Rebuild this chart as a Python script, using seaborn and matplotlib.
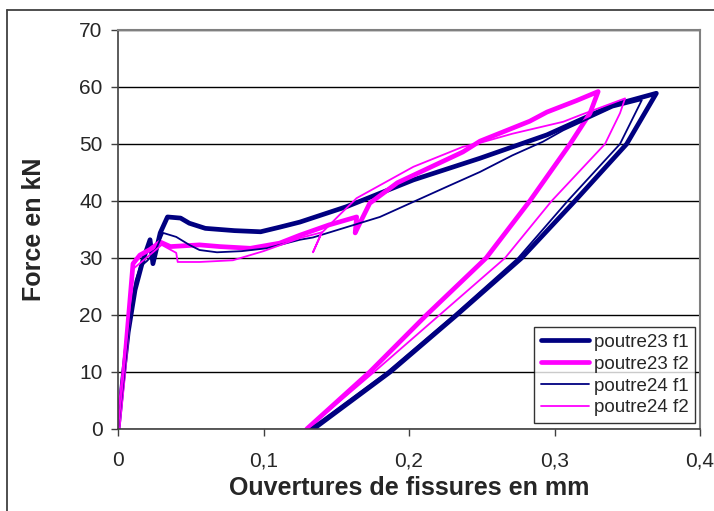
import numpy as np
import pandas as pd
import matplotlib
matplotlib.use("Agg")
import matplotlib.pyplot as plt
from matplotlib.lines import Line2D
import seaborn as sns

# poutre23 f1 (thick navy)
p23f1_x = [0, 0.003, 0.007, 0.0117, 0.017, 0.022, 0.024, 0.029, 0.034, 0.043, 0.049, 0.06, 0.08,
           0.098, 0.111, 0.125, 0.157, 0.203, 0.2488, 0.2948, 0.340, 0.370,
           0.3496, 0.314, 0.2774, 0.2328, 0.187, 0.1343]
p23f1_y = [0, 8, 17, 24.4, 29.5, 33.2, 29, 34.4, 37.2, 37, 36.1, 35.2, 34.8,
           34.6, 35.4, 36.3, 39, 43.7, 47.5, 51.6, 56.8, 58.9,
           50, 40, 30, 20, 10, 0]

# poutre23 f2 (thick magenta)
p23f2_x = [0, 0.004, 0.008, 0.0103, 0.015, 0.022, 0.029, 0.036, 0.056, 0.07, 0.091, 0.111, 0.125,
           0.145, 0.164, 0.163, 0.166, 0.173, 0.192, 0.237, 0.2488, 0.283, 0.2948, 0.315, 0.330,
           0.3244, 0.3107, 0.283, 0.253, 0.212, 0.173, 0.1297]
p23f2_y = [0, 10, 22, 29, 30.5, 31.5, 32.8, 32, 32.3, 32, 31.7, 32.6, 34,
           35.8, 37.2, 34.4, 36, 39.6, 43.2, 48.6, 50.5, 54, 55.6, 57.6, 59.2,
           55.4, 50, 40, 30, 20, 10, 0]

# poutre24 f1 (thin navy)
p24f1_x = [0, 0.004, 0.008, 0.012, 0.015, 0.020, 0.025, 0.031, 0.040, 0.049, 0.056, 0.068, 0.085,
           0.102, 0.125, 0.134, 0.180, 0.226, 0.2488, 0.271, 0.292, 0.306, 0.340, 0.360,
           0.345, 0.309, 0.275, 0.231, 0.185, 0.132]
p24f1_y = [0, 9, 19, 26, 28.4, 29.5, 30.9, 34.4, 33.7, 32.3, 31.4, 31, 31.2,
           31.7, 33.2, 33.6, 37.2, 42.5, 45.1, 48, 50.4, 52.4, 56.4, 57.7,
           50, 40, 30, 20, 10, 0]

# poutre24 f2 (thin magenta)
p24f2_x = [0, 0.004, 0.008, 0.010, 0.017, 0.024, 0.030, 0.040, 0.041, 0.056, 0.079, 0.100, 0.125,
           0.140, 0.134, 0.140, 0.152, 0.164, 0.203, 0.237, 0.2488, 0.271, 0.306, 0.318, 0.3485,
           0.345, 0.3347, 0.298, 0.266, 0.221, 0.176, 0.130]
p24f2_y = [0, 10, 21, 28, 29.5, 31, 32.3, 30.9, 29.3, 29.3, 29.6, 31.2, 33.5,
           34.5, 31, 34.4, 37.5, 40.5, 46, 49.5, 50.2, 51.8, 53.9, 55.1, 58,
           55.4, 50, 40, 30, 20, 10, 0]

series = ["poutre23 f1", "poutre23 f2", "poutre24 f1", "poutre24 f2"]
xs = [p23f1_x, p23f2_x, p24f1_x, p24f2_x]
ys = [p23f1_y, p23f2_y, p24f1_y, p24f2_y]
colors = ["#000080", "#FF00FF", "#000080", "#FF00FF"]
widths = [3.4, 3.4, 1.3, 1.3]

sns.set_theme(style="white")
plt.rcParams['font.family'] = ['Liberation Sans', 'DejaVu Sans']

fig = plt.figure(figsize=(7.14, 5.11), dpi=100)
ax = fig.add_axes([0.1653, 0.1605, 0.8151, 0.7808])

for name, x, y, c, w in zip(series, xs, ys, colors, widths):
    df = pd.DataFrame({"x": x, "y": y})
    sns.lineplot(data=df, x="x", y="y", sort=False, estimator=None, color=c, lw=w,
                 label=name, ax=ax)

ax.set_xlim(0, 0.4)
ax.set_ylim(0, 70)
ax.set_xticks([0, 0.1, 0.2, 0.3, 0.4])
ax.set_xticklabels(["0", "0,1", "0,2", "0,3", "0,4"])
ax.set_yticks(range(0, 71, 10))
ax.yaxis.grid(True, color="black", lw=1)
ax.tick_params(axis="both", labelsize=15, direction="out", length=5, width=1,
               color="#404040", left=True, bottom=True)
ax.tick_params(axis="y", pad=6)
ax.tick_params(axis="x", pad=11)
for s in ["left", "bottom"]:
    ax.spines[s].set_color("#404040")
    ax.spines[s].set_linewidth(1.2)
for s in ["top", "right"]:
    ax.spines[s].set_color("#808080")
    ax.spines[s].set_linewidth(1.5)

ax.set_xlabel("Ouvertures de fissures en mm", fontsize=18, fontweight="bold", labelpad=4)
ax.set_ylabel("Force en kN", fontsize=18, fontweight="bold", labelpad=24)

leg = ax.legend(loc="lower right", bbox_to_anchor=(0.992, 0.015), fontsize=13.5,
                frameon=True, fancybox=False, edgecolor="black", handlelength=2.6,
                handletextpad=0.25, borderpad=0.35, labelspacing=0.25, borderaxespad=0)
leg.get_frame().set_linewidth(1)

# outer chart frame
fig.add_artist(Line2D([7 / 714, 7 / 714], [0, 1 - 10 / 511], color="#404040", lw=1.3))
fig.add_artist(Line2D([7 / 714, 1], [1 - 10 / 511, 1 - 10 / 511], color="#404040", lw=1.3))

fig.savefig("out.png", dpi=100)
